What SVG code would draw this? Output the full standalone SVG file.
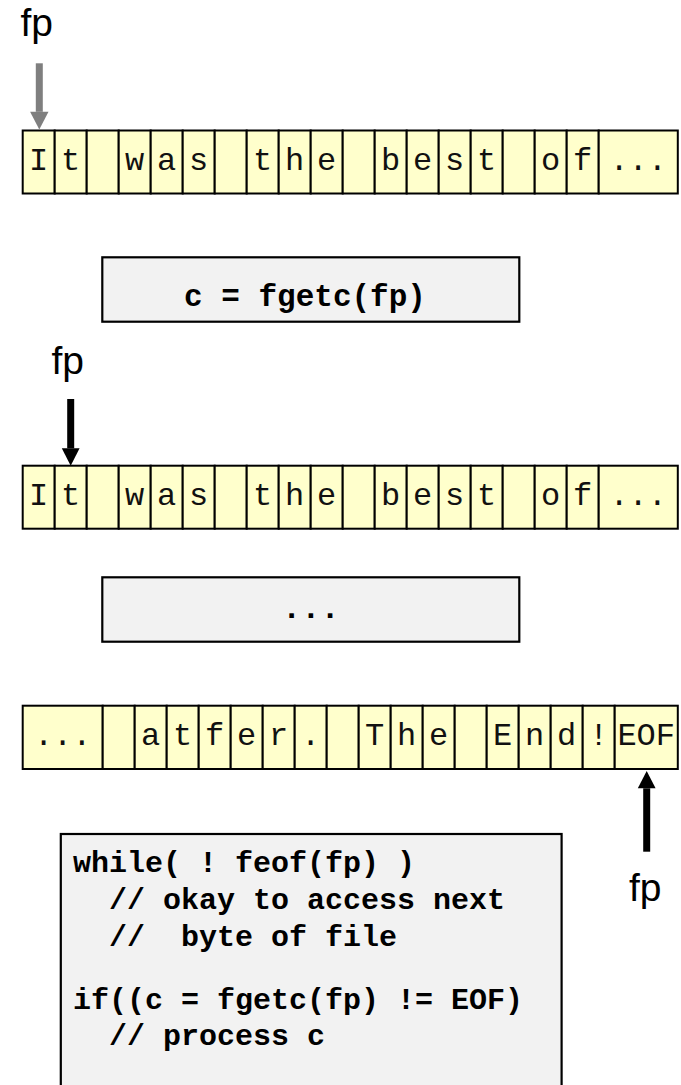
<svg xmlns="http://www.w3.org/2000/svg" width="681" height="1085" viewBox="0 0 681 1085">
  <style>
    .cell { fill: #ffffcc; stroke: #000; stroke-width: 2; }
    .ch { font-family: "Liberation Mono", "Courier New", monospace; font-size: 32px; fill: #111; text-anchor: middle; }
    .box { fill: #f2f2f2; stroke: #000; stroke-width: 2.2; }
    .code { font-family: "Liberation Mono", "Courier New", monospace; font-weight: bold; fill: #000; }
    .lbl { font-family: "Liberation Sans", Arial, sans-serif; font-size: 39px; fill: #000; }
    .shaft { stroke-width: 7; fill: none; }
  </style>
  <defs>
    <marker id="headGray" markerUnits="userSpaceOnUse" markerWidth="18" markerHeight="19" refX="0" refY="9.2" orient="auto" overflow="visible">
      <path d="M0,0 L17.6,9.2 L0,18.4 z" fill="#7f7f7f"/>
    </marker>
    <marker id="headBlack" markerUnits="userSpaceOnUse" markerWidth="18" markerHeight="19" refX="0" refY="8.9" orient="auto" overflow="visible">
      <path d="M0,0 L17.4,8.9 L0,17.8 z" fill="#000"/>
    </marker>
  </defs>

  <!-- file contents before reading -->
  <g id="row-start">
    <rect class="cell" x="22.7" y="130.5" width="32" height="63"/>
    <rect class="cell" x="54.7" y="130.5" width="32" height="63"/>
    <rect class="cell" x="86.7" y="130.5" width="32" height="63"/>
    <rect class="cell" x="118.7" y="130.5" width="32" height="63"/>
    <rect class="cell" x="150.7" y="130.5" width="32" height="63"/>
    <rect class="cell" x="182.7" y="130.5" width="32" height="63"/>
    <rect class="cell" x="214.7" y="130.5" width="32" height="63"/>
    <rect class="cell" x="246.7" y="130.5" width="32" height="63"/>
    <rect class="cell" x="278.7" y="130.5" width="32" height="63"/>
    <rect class="cell" x="310.7" y="130.5" width="32" height="63"/>
    <rect class="cell" x="342.7" y="130.5" width="32" height="63"/>
    <rect class="cell" x="374.7" y="130.5" width="32" height="63"/>
    <rect class="cell" x="406.7" y="130.5" width="32" height="63"/>
    <rect class="cell" x="438.7" y="130.5" width="32" height="63"/>
    <rect class="cell" x="470.7" y="130.5" width="32" height="63"/>
    <rect class="cell" x="502.7" y="130.5" width="32" height="63"/>
    <rect class="cell" x="534.7" y="130.5" width="32" height="63"/>
    <rect class="cell" x="566.7" y="130.5" width="32" height="63"/>
    <rect class="cell" x="598.7" y="130.5" width="79.1" height="63"/>
    <text class="ch" x="38.7" y="169.5">I</text>
    <text class="ch" x="70.7" y="169.5">t</text>
    <text class="ch" x="134.7" y="169.5">w</text>
    <text class="ch" x="166.7" y="169.5">a</text>
    <text class="ch" x="198.7" y="169.5">s</text>
    <text class="ch" x="262.7" y="169.5">t</text>
    <text class="ch" x="294.7" y="169.5">h</text>
    <text class="ch" x="326.7" y="169.5">e</text>
    <text class="ch" x="390.7" y="169.5">b</text>
    <text class="ch" x="422.7" y="169.5">e</text>
    <text class="ch" x="454.7" y="169.5">s</text>
    <text class="ch" x="486.7" y="169.5">t</text>
    <text class="ch" x="550.7" y="169.5">o</text>
    <text class="ch" x="582.7" y="169.5">f</text>
    <text class="ch" x="638.2" y="169.5">...</text>
  </g>

  <g id="label-fp-1">
    <text class="lbl" x="20.5" y="35.5">fp</text>
  </g>

  <g id="call-fgetc">
    <rect class="box" x="102.3" y="257.3" width="417" height="64.4"/>
    <text class="code" x="305" y="305.7" font-size="31" text-anchor="middle">c = fgetc(fp)</text>
  </g>

  <g id="label-fp-2">
    <text class="lbl" x="51.5" y="374">fp</text>
  </g>

  <!-- file contents after one read -->
  <g id="row-after">
    <rect class="cell" x="22.7" y="465.7" width="32" height="63"/>
    <rect class="cell" x="54.7" y="465.7" width="32" height="63"/>
    <rect class="cell" x="86.7" y="465.7" width="32" height="63"/>
    <rect class="cell" x="118.7" y="465.7" width="32" height="63"/>
    <rect class="cell" x="150.7" y="465.7" width="32" height="63"/>
    <rect class="cell" x="182.7" y="465.7" width="32" height="63"/>
    <rect class="cell" x="214.7" y="465.7" width="32" height="63"/>
    <rect class="cell" x="246.7" y="465.7" width="32" height="63"/>
    <rect class="cell" x="278.7" y="465.7" width="32" height="63"/>
    <rect class="cell" x="310.7" y="465.7" width="32" height="63"/>
    <rect class="cell" x="342.7" y="465.7" width="32" height="63"/>
    <rect class="cell" x="374.7" y="465.7" width="32" height="63"/>
    <rect class="cell" x="406.7" y="465.7" width="32" height="63"/>
    <rect class="cell" x="438.7" y="465.7" width="32" height="63"/>
    <rect class="cell" x="470.7" y="465.7" width="32" height="63"/>
    <rect class="cell" x="502.7" y="465.7" width="32" height="63"/>
    <rect class="cell" x="534.7" y="465.7" width="32" height="63"/>
    <rect class="cell" x="566.7" y="465.7" width="32" height="63"/>
    <rect class="cell" x="598.7" y="465.7" width="79.1" height="63"/>
    <text class="ch" x="38.7" y="504.7">I</text>
    <text class="ch" x="70.7" y="504.7">t</text>
    <text class="ch" x="134.7" y="504.7">w</text>
    <text class="ch" x="166.7" y="504.7">a</text>
    <text class="ch" x="198.7" y="504.7">s</text>
    <text class="ch" x="262.7" y="504.7">t</text>
    <text class="ch" x="294.7" y="504.7">h</text>
    <text class="ch" x="326.7" y="504.7">e</text>
    <text class="ch" x="390.7" y="504.7">b</text>
    <text class="ch" x="422.7" y="504.7">e</text>
    <text class="ch" x="454.7" y="504.7">s</text>
    <text class="ch" x="486.7" y="504.7">t</text>
    <text class="ch" x="550.7" y="504.7">o</text>
    <text class="ch" x="582.7" y="504.7">f</text>
    <text class="ch" x="638.2" y="504.7">...</text>
  </g>

  <g id="more-reads">
    <rect class="box" x="102.3" y="577.3" width="417" height="64.4"/>
    <text class="code" x="310.8" y="618" font-size="32" text-anchor="middle">...</text>
  </g>

  <!-- file contents at the end -->
  <g id="row-end">
    <rect class="cell" x="22.7" y="705.7" width="80" height="63.3"/>
    <rect class="cell" x="102.7" y="705.7" width="32" height="63.3"/>
    <rect class="cell" x="134.7" y="705.7" width="32" height="63.3"/>
    <rect class="cell" x="166.7" y="705.7" width="32" height="63.3"/>
    <rect class="cell" x="198.7" y="705.7" width="32" height="63.3"/>
    <rect class="cell" x="230.7" y="705.7" width="32" height="63.3"/>
    <rect class="cell" x="262.7" y="705.7" width="32" height="63.3"/>
    <rect class="cell" x="294.7" y="705.7" width="32" height="63.3"/>
    <rect class="cell" x="326.7" y="705.7" width="32" height="63.3"/>
    <rect class="cell" x="358.7" y="705.7" width="32" height="63.3"/>
    <rect class="cell" x="390.7" y="705.7" width="32" height="63.3"/>
    <rect class="cell" x="422.7" y="705.7" width="32" height="63.3"/>
    <rect class="cell" x="454.7" y="705.7" width="32" height="63.3"/>
    <rect class="cell" x="486.7" y="705.7" width="32" height="63.3"/>
    <rect class="cell" x="518.7" y="705.7" width="32" height="63.3"/>
    <rect class="cell" x="550.7" y="705.7" width="32" height="63.3"/>
    <rect class="cell" x="582.7" y="705.7" width="32" height="63.3"/>
    <rect class="cell" x="614.7" y="705.7" width="63.1" height="63.3"/>
    <text class="ch" x="62.7" y="745">...</text>
    <text class="ch" x="150.7" y="745">a</text>
    <text class="ch" x="182.7" y="745">t</text>
    <text class="ch" x="214.7" y="745">f</text>
    <text class="ch" x="246.7" y="745">e</text>
    <text class="ch" x="278.7" y="745">r</text>
    <text class="ch" x="310.7" y="745">.</text>
    <text class="ch" x="374.7" y="745">T</text>
    <text class="ch" x="406.7" y="745">h</text>
    <text class="ch" x="438.7" y="745">e</text>
    <text class="ch" x="502.7" y="745">E</text>
    <text class="ch" x="534.7" y="745">n</text>
    <text class="ch" x="566.7" y="745">d</text>
    <text class="ch" x="598.7" y="745">!</text>
    <text class="ch" x="646.2" y="745">EOF</text>
  </g>

  <g id="label-fp-3">
    <text class="lbl" x="629" y="900.5">fp</text>
  </g>

  <g id="loop-code">
    <rect class="box" x="60.8" y="834" width="500.8" height="270"/>
    <text class="code" font-size="30" xml:space="preserve"><tspan x="73" y="872">while( ! feof(fp) )</tspan><tspan x="73" y="909">  // okay to access next</tspan><tspan x="73" y="946">  //  byte of file</tspan><tspan x="73" y="1009">if((c = fgetc(fp) != EOF)</tspan><tspan x="73" y="1045">  // process c</tspan></text>
  </g>

  <!-- pointer arrows -->
  <g id="connectors">
    <line class="shaft" x1="39.3" y1="63.3" x2="39.3" y2="111.8" stroke="#7f7f7f" stroke-width="6.7" marker-end="url(#headGray)"/>
    <line class="shaft" x1="70.7" y1="399" x2="70.7" y2="448.3" stroke="#000" marker-end="url(#headBlack)"/>
    <line class="shaft" x1="646.7" y1="851.7" x2="646.7" y2="788.3" stroke="#000" marker-end="url(#headBlack)"/>
  </g>
</svg>
